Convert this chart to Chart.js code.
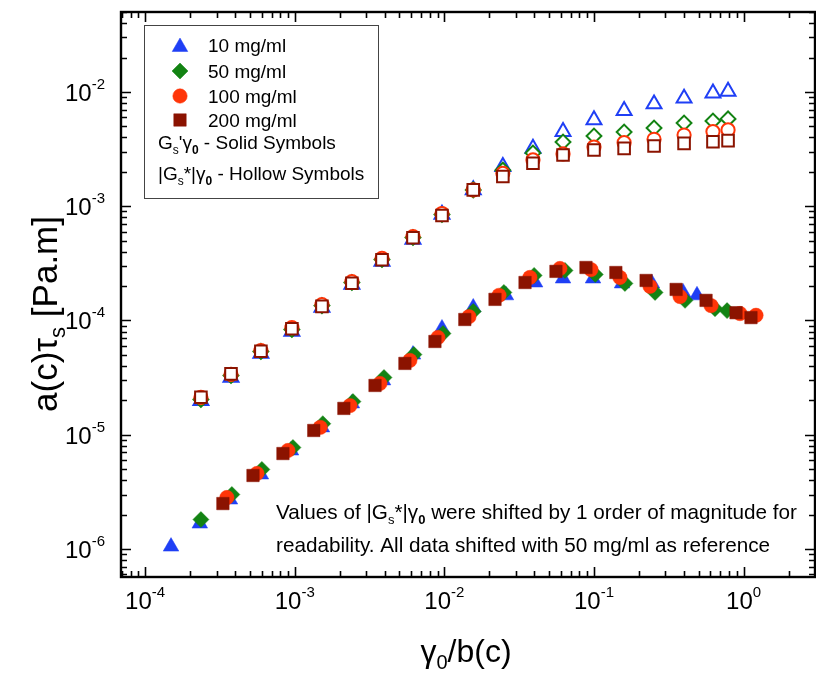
<!DOCTYPE html>
<html>
<head>
<meta charset="utf-8">
<script src="https://cdn.jsdelivr.net/npm/chart.js@4.4.1/dist/chart.umd.min.js"></script>
<style>
  html, body { margin: 0; padding: 0; background: #ffffff; overflow: hidden; }
  canvas { display: block; }
</style>
</head>
<body>
<canvas id="c" width="816" height="678" style="width:816px;height:678px"></canvas>
<script>
// Concentrations and marker colours
const concentrations = ['10 mg/ml', '50 mg/ml', '100 mg/ml', '200 mg/ml'];
const seriesColors = ['#1f3ff5', '#138313', '#ff3508', '#8b1300'];
const seriesShapes = ['triangle', 'rectRot', 'circle', 'rect'];

// Axis decade labels
const xDecades = [-4, -3, -2, -1, 0];
const yDecades = [-6, -5, -4, -3, -2];

// G_s' * gamma0 (solid symbols), strain axis gamma0/b(c)
const xStorage10 = [1.49e-4, 2.32e-4, 3.69e-4, 5.94e-4, 9.44e-4, 1.52e-3, 2.41e-3, 3.89e-3, 6.17e-3, 9.64e-3, 1.56e-2, 2.58e-2, 4.04e-2, 6.21e-2, 9.85e-2, 0.154, 0.244, 0.394, 0.488];
const yStorage10 = [1.05e-6, 1.67e-6, 2.71e-6, 4.49e-6, 7.28e-6, 1.16e-5, 1.88e-5, 2.99e-5, 5.03e-5, 8.51e-5, 1.30e-4, 1.66e-4, 2.15e-4, 2.33e-4, 2.33e-4, 2.11e-4, 2.11e-4, 1.76e-4, 1.66e-4];

const xStorage50 = [2.36e-4, 3.80e-4, 6.03e-4, 9.73e-4, 1.54e-3, 2.45e-3, 3.95e-3, 6.26e-3, 9.79e-3, 1.56e-2, 2.50e-2, 3.98e-2, 6.40e-2, 0.102, 0.161, 0.256, 0.406, 0.644, 0.775];
const yStorage50 = [1.81e-6, 3.00e-6, 4.97e-6, 7.73e-6, 1.25e-5, 1.95e-5, 3.17e-5, 5.03e-5, 7.69e-5, 1.20e-4, 1.76e-4, 2.48e-4, 2.74e-4, 2.53e-4, 2.11e-4, 1.76e-4, 1.50e-4, 1.27e-4, 1.22e-4];

const xStorage100 = [3.52e-4, 5.59e-4, 9.01e-4, 1.48e-3, 2.34e-3, 3.71e-3, 5.88e-3, 9.06e-3, 1.46e-2, 2.32e-2, 3.73e-2, 5.92e-2, 9.55e-2, 0.149, 0.237, 0.376, 0.606, 0.946, 1.21];
const yStorage100 = [2.82e-6, 4.58e-6, 7.28e-6, 1.16e-5, 1.80e-5, 2.81e-5, 4.47e-5, 7.10e-5, 1.08e-4, 1.66e-4, 2.38e-4, 2.85e-4, 2.79e-4, 2.38e-4, 1.99e-4, 1.62e-4, 1.35e-4, 1.15e-4, 1.11e-4];

const xStorage200 = [3.31e-4, 5.26e-4, 8.34e-4, 1.34e-3, 2.13e-3, 3.44e-3, 5.45e-3, 8.65e-3, 1.37e-2, 2.18e-2, 3.46e-2, 5.57e-2, 8.84e-2, 0.140, 0.223, 0.354, 0.561, 0.890, 1.12];
const yStorage200 = [2.50e-6, 4.40e-6, 6.85e-6, 1.09e-5, 1.70e-5, 2.70e-5, 4.21e-5, 6.55e-5, 1.02e-4, 1.53e-4, 2.15e-4, 2.69e-4, 2.91e-4, 2.63e-4, 2.24e-4, 1.87e-4, 1.50e-4, 1.17e-4, 1.06e-4];

// |G_s*| * gamma0 (hollow symbols, plotted one decade up)
const xComplex = [2.36e-4, 3.75e-4, 5.94e-4, 9.57e-4, 1.52e-3, 2.41e-3, 3.83e-3, 6.17e-3, 9.64e-3, 1.56e-2, 2.46e-2, 3.91e-2, 6.21e-2, 0.100, 0.159, 0.252, 0.400, 0.624, 0.787];
const yComplex10 = [1.99e-5, 3.17e-5, 5.14e-5, 8.01e-5, 1.30e-4, 2.07e-4, 3.28e-4, 5.12e-4, 8.47e-4, 1.39e-3, 2.22e-3, 3.21e-3, 4.50e-3, 5.69e-3, 6.86e-3, 7.85e-3, 8.81e-3, 9.75e-3, 1.01e-2];
const yComplex50 = [2.04e-5, 3.30e-5, 5.36e-5, 8.34e-5, 1.35e-4, 2.15e-4, 3.42e-4, 5.32e-4, 8.47e-4, 1.39e-3, 2.07e-3, 2.92e-3, 3.65e-3, 4.12e-3, 4.46e-3, 4.84e-3, 5.35e-3, 5.57e-3, 5.81e-3];
const yComplex100 = [2.12e-5, 3.37e-5, 5.46e-5, 8.68e-5, 1.38e-4, 2.19e-4, 3.49e-4, 5.43e-4, 8.64e-4, 1.39e-3, 1.94e-3, 2.54e-3, 2.87e-3, 3.30e-3, 3.60e-3, 3.85e-3, 4.20e-3, 4.50e-3, 4.65e-3];
const yComplex200 = [2.13e-5, 3.41e-5, 5.38e-5, 8.46e-5, 1.33e-4, 2.12e-4, 3.40e-4, 5.30e-4, 8.30e-4, 1.39e-3, 1.82e-3, 2.38e-3, 2.81e-3, 3.11e-3, 3.21e-3, 3.37e-3, 3.55e-3, 3.67e-3, 3.75e-3];

const FONT = '"Liberation Sans", Arial, Helvetica, sans-serif';

const toPoints = (xs, ys) => xs.map((x, i) => ({ x: x, y: ys[i] }));

const storageSets = [
  [xStorage10, yStorage10], [xStorage50, yStorage50],
  [xStorage100, yStorage100], [xStorage200, yStorage200]
];
const complexSets = [yComplex10, yComplex50, yComplex100, yComplex200];

const solidRadius = [9, 8, 7.2, 8.8];
const hollowRadius = [8.6, 7.4, 6.6, 8.2];

const datasets = [];
concentrations.forEach((name, i) => {
  datasets.push({
    label: name,
    data: toPoints(storageSets[i][0], storageSets[i][1]),
    pointStyle: seriesShapes[i],
    pointRadius: solidRadius[i],
    pointBackgroundColor: seriesColors[i],
    pointBorderColor: seriesColors[i],
    pointBorderWidth: 0.5,
    showLine: false,
    order: 10 - i
  });
  datasets.push({
    label: name + ' |G*|',
    data: toPoints(xComplex, complexSets[i]),
    pointStyle: seriesShapes[i],
    pointRadius: hollowRadius[i],
    pointBackgroundColor: '#ffffff',
    pointBorderColor: seriesColors[i],
    pointBorderWidth: 2,
    showLine: false,
    order: 10 - i
  });
});

// Measure / draw a run of text pieces with sub- and superscripts
function richWidth(ctx, parts) {
  let w = 0;
  parts.forEach(p => {
    ctx.font = (p.bold ? 'bold ' : '') + p.size + 'px ' + FONT;
    w += ctx.measureText(p.t).width;
  });
  return w;
}
function drawRich(ctx, parts, x, y, align) {
  const total = richWidth(ctx, parts);
  let cx = x;
  if (align === 'center') cx = x - total / 2;
  else if (align === 'right') cx = x - total;
  ctx.textAlign = 'left';
  ctx.textBaseline = 'alphabetic';
  parts.forEach(p => {
    ctx.font = (p.bold ? 'bold ' : '') + p.size + 'px ' + FONT;
    ctx.fillText(p.t, cx, y + (p.dy || 0));
    cx += ctx.measureText(p.t).width;
  });
  return total;
}

const framePlugin = {
  id: 'frameAndLabels',
  afterDraw(chart) {
    const ctx = chart.ctx;
    const xs = chart.scales.x, ys = chart.scales.y;
    const a = chart.chartArea;
    ctx.save();
    ctx.fillStyle = '#000';
    ctx.strokeStyle = '#000';

    // inward ticks on all four sides
    ctx.lineWidth = 1.6;
    ctx.beginPath();
    for (let d = -5; d <= 1; d++) {
      for (let m = 1; m <= 9; m++) {
        const v = m * Math.pow(10, d);
        if (v < xs.min || v > xs.max) continue;
        const px = Math.round(xs.getPixelForValue(v)) + 0.5;
        const len = m === 1 ? 10 : 6;
        ctx.moveTo(px, a.bottom); ctx.lineTo(px, a.bottom - len);
        ctx.moveTo(px, a.top); ctx.lineTo(px, a.top + len);
      }
    }
    for (let d = -7; d <= -1; d++) {
      for (let m = 1; m <= 9; m++) {
        const v = m * Math.pow(10, d);
        if (v < ys.min || v > ys.max) continue;
        const py = Math.round(ys.getPixelForValue(v)) + 0.5;
        const len = m === 1 ? 10 : 6;
        ctx.moveTo(a.left, py); ctx.lineTo(a.left + len, py);
        ctx.moveTo(a.right, py); ctx.lineTo(a.right - len, py);
      }
    }
    ctx.stroke();

    // frame
    ctx.lineWidth = 2.4;
    ctx.strokeRect(a.left, a.top, a.right - a.left, a.bottom - a.top);

    // x tick labels
    xDecades.forEach(d => {
      const px = xs.getPixelForValue(Math.pow(10, d));
      drawRich(ctx, [
        { t: '10', size: 24 },
        { t: String(d), size: 15, dy: -12 }
      ], px, 609, 'center');
    });
    // y tick labels
    yDecades.forEach(d => {
      const py = ys.getPixelForValue(Math.pow(10, d));
      drawRich(ctx, [
        { t: '10', size: 24 },
        { t: String(d), size: 15, dy: -12 }
      ], 105, py + 9, 'right');
    });

    // x axis title
    drawRich(ctx, [
      { t: '\u03b3', size: 32 },
      { t: '0', size: 20, dy: 7 },
      { t: '/b(c)', size: 32 }
    ], 466, 662, 'center');

    // y axis title (rotated)
    ctx.save();
    ctx.translate(57, 314);
    ctx.rotate(-Math.PI / 2);
    drawRich(ctx, [
      { t: 'a(c)\u03c4', size: 35 },
      { t: 's', size: 22, dy: 8 },
      { t: ' [Pa.m]', size: 35 }
    ], 0, 0, 'center');
    ctx.restore();

    // legend box
    ctx.lineWidth = 1;
    ctx.strokeStyle = '#444';
    ctx.fillStyle = '#fff';
    ctx.fillRect(144.5, 25.5, 234, 173);
    ctx.strokeRect(144.5, 25.5, 234, 173);
    const rows = [45, 71, 96, 120];
    concentrations.forEach((name, i) => {
      ctx.fillStyle = seriesColors[i];
      ctx.strokeStyle = seriesColors[i];
      ctx.lineWidth = 0.5;
      Chart.helpers.drawPoint(ctx, {
        pointStyle: seriesShapes[i],
        radius: solidRadius[i],
        borderWidth: 0.5,
        rotation: 0
      }, 180, rows[i] + (i === 0 ? 2 : 0));
      ctx.fillStyle = '#000';
      drawRich(ctx, [{ t: name, size: 19 }], 208, rows[i] + 7, 'left');
    });
    ctx.fillStyle = '#000';
    drawRich(ctx, [
      { t: 'G', size: 19 },
      { t: 's', size: 12, dy: 5 },
      { t: '\'\u03b3', size: 19 },
      { t: '0', size: 12, dy: 5, bold: true },
      { t: ' - Solid Symbols', size: 19 }
    ], 158, 149, 'left');
    drawRich(ctx, [
      { t: '|G', size: 19 },
      { t: 's', size: 12, dy: 5 },
      { t: '*|\u03b3', size: 19 },
      { t: '0', size: 12, dy: 5, bold: true },
      { t: ' - Hollow Symbols', size: 19 }
    ], 158, 180, 'left');

    // note about shifted data
    drawRich(ctx, [
      { t: 'Values of |G', size: 20.7 },
      { t: 's', size: 13, dy: 5 },
      { t: '*|\u03b3', size: 20.7 },
      { t: '0', size: 13, dy: 5, bold: true },
      { t: ' were shifted by 1 order of magnitude for', size: 20.7 }
    ], 276, 519, 'left');
    drawRich(ctx, [
      { t: 'readability. All data shifted with 50 mg/ml as reference', size: 20.7 }
    ], 276, 552, 'left');

    ctx.restore();
  }
};

new Chart(document.getElementById('c'), {
  type: 'scatter',
  data: { datasets: datasets },
  options: {
    responsive: false,
    animation: false,
    devicePixelRatio: 1,
    layout: { autoPadding: false, padding: { left: 121, right: 1, top: 12, bottom: 101 } },
    plugins: { legend: { display: false }, tooltip: { enabled: false } },
    scales: {
      x: { type: 'logarithmic', min: 6.9e-5, max: 3.0, display: false },
      y: { type: 'logarithmic', min: 5.69e-7, max: 5.01e-2, display: false }
    }
  },
  plugins: [framePlugin]
});
</script>
</body>
</html>
